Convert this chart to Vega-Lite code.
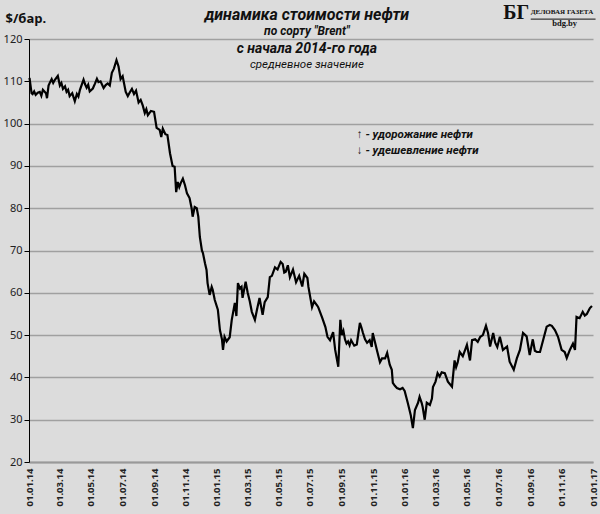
{
  "$schema": "https://vega.github.io/schema/vega-lite/v6.json",
  "width": 564,
  "height": 423,
  "autosize": {"type": "none"},
  "padding": {"left": 29, "top": 39, "right": 7, "bottom": 52},
  "background": "#dcdcdc",
  "config": {
    "view": {"stroke": null},
    "text": {"font": "Roboto", "color": "#111"},
    "axisX": {"labelOverlap": false, "labelSeparation": 0, "labelBound": false}
  },
  "layer": [
    {
      "data": {
        "values": [
          {"date": "2014/01/02", "price": 110.8},
          {"date": "2014/01/06", "price": 107.2},
          {"date": "2014/01/08", "price": 107.0},
          {"date": "2014/01/11", "price": 107.6},
          {"date": "2014/01/14", "price": 106.8},
          {"date": "2014/01/18", "price": 107.3},
          {"date": "2014/01/22", "price": 107.5},
          {"date": "2014/01/25", "price": 106.6},
          {"date": "2014/01/28", "price": 108.0},
          {"date": "2014/02/03", "price": 107.2},
          {"date": "2014/02/05", "price": 106.0},
          {"date": "2014/02/08", "price": 109.0},
          {"date": "2014/02/11", "price": 109.8},
          {"date": "2014/02/14", "price": 110.5},
          {"date": "2014/02/17", "price": 109.6},
          {"date": "2014/02/20", "price": 110.3},
          {"date": "2014/02/26", "price": 111.3},
          {"date": "2014/03/02", "price": 109.0},
          {"date": "2014/03/05", "price": 109.6},
          {"date": "2014/03/08", "price": 108.2},
          {"date": "2014/03/12", "price": 108.8},
          {"date": "2014/03/15", "price": 107.5},
          {"date": "2014/03/18", "price": 108.0},
          {"date": "2014/03/21", "price": 106.5},
          {"date": "2014/03/26", "price": 107.2},
          {"date": "2014/03/31", "price": 105.3},
          {"date": "2014/04/04", "price": 107.0},
          {"date": "2014/04/07", "price": 106.4},
          {"date": "2014/04/10", "price": 108.0},
          {"date": "2014/04/17", "price": 110.4},
          {"date": "2014/04/20", "price": 109.3},
          {"date": "2014/04/23", "price": 108.5},
          {"date": "2014/04/26", "price": 109.2},
          {"date": "2014/04/29", "price": 107.6},
          {"date": "2014/05/05", "price": 108.3},
          {"date": "2014/05/09", "price": 109.4},
          {"date": "2014/05/13", "price": 110.6},
          {"date": "2014/05/16", "price": 109.8},
          {"date": "2014/05/20", "price": 110.0},
          {"date": "2014/05/26", "price": 108.4},
          {"date": "2014/05/30", "price": 109.1},
          {"date": "2014/06/03", "price": 109.5},
          {"date": "2014/06/07", "price": 109.0},
          {"date": "2014/06/11", "price": 112.0},
          {"date": "2014/06/15", "price": 113.0},
          {"date": "2014/06/20", "price": 115.0},
          {"date": "2014/06/24", "price": 113.5},
          {"date": "2014/06/28", "price": 110.5},
          {"date": "2014/07/02", "price": 111.2},
          {"date": "2014/07/08", "price": 107.5},
          {"date": "2014/07/12", "price": 106.5},
          {"date": "2014/07/16", "price": 107.4},
          {"date": "2014/07/20", "price": 108.2},
          {"date": "2014/07/24", "price": 107.0},
          {"date": "2014/07/28", "price": 107.8},
          {"date": "2014/08/02", "price": 105.0},
          {"date": "2014/08/06", "price": 105.6},
          {"date": "2014/08/10", "price": 104.3},
          {"date": "2014/08/14", "price": 102.5},
          {"date": "2014/08/17", "price": 103.4},
          {"date": "2014/08/20", "price": 102.0},
          {"date": "2014/08/26", "price": 103.0},
          {"date": "2014/09/01", "price": 102.8},
          {"date": "2014/09/06", "price": 99.0},
          {"date": "2014/09/12", "price": 98.5},
          {"date": "2014/09/15", "price": 96.8},
          {"date": "2014/09/18", "price": 98.8},
          {"date": "2014/09/23", "price": 97.5},
          {"date": "2014/09/27", "price": 97.3},
          {"date": "2014/10/02", "price": 93.0},
          {"date": "2014/10/07", "price": 90.0},
          {"date": "2014/10/11", "price": 89.8},
          {"date": "2014/10/14", "price": 83.8},
          {"date": "2014/10/17", "price": 86.2},
          {"date": "2014/10/20", "price": 85.0},
          {"date": "2014/10/23", "price": 86.0},
          {"date": "2014/10/27", "price": 87.0},
          {"date": "2014/10/31", "price": 85.5},
          {"date": "2014/11/04", "price": 83.5},
          {"date": "2014/11/09", "price": 82.4},
          {"date": "2014/11/13", "price": 80.0},
          {"date": "2014/11/15", "price": 78.0},
          {"date": "2014/11/19", "price": 80.3},
          {"date": "2014/11/23", "price": 80.0},
          {"date": "2014/11/26", "price": 78.0},
          {"date": "2014/11/29", "price": 73.2},
          {"date": "2014/12/03", "price": 70.0},
          {"date": "2014/12/05", "price": 69.4},
          {"date": "2014/12/09", "price": 67.0},
          {"date": "2014/12/12", "price": 65.4},
          {"date": "2014/12/14", "price": 62.3},
          {"date": "2014/12/18", "price": 59.5},
          {"date": "2014/12/22", "price": 61.4},
          {"date": "2014/12/24", "price": 60.7},
          {"date": "2014/12/28", "price": 58.3},
          {"date": "2015/01/03", "price": 56.0},
          {"date": "2015/01/07", "price": 51.2},
          {"date": "2015/01/11", "price": 49.0},
          {"date": "2015/01/13", "price": 46.5},
          {"date": "2015/01/16", "price": 49.6},
          {"date": "2015/01/20", "price": 48.5},
          {"date": "2015/01/26", "price": 49.5},
          {"date": "2015/01/30", "price": 53.6},
          {"date": "2015/02/05", "price": 57.6},
          {"date": "2015/02/08", "price": 54.5},
          {"date": "2015/02/11", "price": 62.3},
          {"date": "2015/02/15", "price": 61.0},
          {"date": "2015/02/18", "price": 61.4},
          {"date": "2015/02/20", "price": 58.8},
          {"date": "2015/02/26", "price": 62.6},
          {"date": "2015/03/02", "price": 60.0},
          {"date": "2015/03/06", "price": 58.0},
          {"date": "2015/03/10", "price": 55.5},
          {"date": "2015/03/16", "price": 53.6},
          {"date": "2015/03/20", "price": 56.0},
          {"date": "2015/03/25", "price": 58.8},
          {"date": "2015/03/31", "price": 54.8},
          {"date": "2015/04/04", "price": 57.8},
          {"date": "2015/04/10", "price": 59.0},
          {"date": "2015/04/14", "price": 63.7},
          {"date": "2015/04/18", "price": 64.0},
          {"date": "2015/04/24", "price": 66.0},
          {"date": "2015/04/29", "price": 65.5},
          {"date": "2015/05/05", "price": 67.3},
          {"date": "2015/05/09", "price": 66.8},
          {"date": "2015/05/12", "price": 64.8},
          {"date": "2015/05/15", "price": 65.0},
          {"date": "2015/05/19", "price": 66.5},
          {"date": "2015/05/23", "price": 63.7},
          {"date": "2015/05/29", "price": 65.5},
          {"date": "2015/06/04", "price": 62.5},
          {"date": "2015/06/10", "price": 64.0},
          {"date": "2015/06/16", "price": 61.5},
          {"date": "2015/06/20", "price": 64.5},
          {"date": "2015/06/26", "price": 63.5},
          {"date": "2015/06/28", "price": 61.4},
          {"date": "2015/07/05", "price": 56.6},
          {"date": "2015/07/09", "price": 58.0},
          {"date": "2015/07/15", "price": 57.0},
          {"date": "2015/07/17", "price": 56.6},
          {"date": "2015/07/25", "price": 54.0},
          {"date": "2015/07/31", "price": 51.9},
          {"date": "2015/08/04", "price": 49.6},
          {"date": "2015/08/09", "price": 48.8},
          {"date": "2015/08/15", "price": 50.7},
          {"date": "2015/08/19", "price": 46.5},
          {"date": "2015/08/25", "price": 42.5},
          {"date": "2015/08/29", "price": 53.6},
          {"date": "2015/09/01", "price": 50.0},
          {"date": "2015/09/04", "price": 51.0},
          {"date": "2015/09/07", "price": 49.0},
          {"date": "2015/09/10", "price": 48.0},
          {"date": "2015/09/13", "price": 48.5},
          {"date": "2015/09/16", "price": 47.6},
          {"date": "2015/09/19", "price": 48.8},
          {"date": "2015/09/25", "price": 47.5},
          {"date": "2015/09/30", "price": 47.8},
          {"date": "2015/10/06", "price": 52.9},
          {"date": "2015/10/09", "price": 51.8},
          {"date": "2015/10/12", "price": 50.5},
          {"date": "2015/10/16", "price": 49.0},
          {"date": "2015/10/20", "price": 48.2},
          {"date": "2015/10/25", "price": 48.8},
          {"date": "2015/10/29", "price": 47.2},
          {"date": "2015/10/31", "price": 50.5},
          {"date": "2015/11/04", "price": 48.5},
          {"date": "2015/11/08", "price": 46.5},
          {"date": "2015/11/14", "price": 43.6},
          {"date": "2015/11/18", "price": 44.5},
          {"date": "2015/11/24", "price": 44.5},
          {"date": "2015/11/28", "price": 45.8},
          {"date": "2015/12/03", "price": 43.0},
          {"date": "2015/12/07", "price": 41.8},
          {"date": "2015/12/09", "price": 38.7},
          {"date": "2015/12/13", "price": 38.0},
          {"date": "2015/12/17", "price": 37.5},
          {"date": "2015/12/23", "price": 37.2},
          {"date": "2015/12/28", "price": 37.5},
          {"date": "2016/01/01", "price": 36.8},
          {"date": "2016/01/07", "price": 34.0},
          {"date": "2016/01/13", "price": 31.0},
          {"date": "2016/01/17", "price": 28.0},
          {"date": "2016/01/21", "price": 32.3},
          {"date": "2016/01/27", "price": 34.0},
          {"date": "2016/01/30", "price": 35.4},
          {"date": "2016/02/03", "price": 34.0},
          {"date": "2016/02/05", "price": 33.0},
          {"date": "2016/02/09", "price": 30.0},
          {"date": "2016/02/13", "price": 34.0},
          {"date": "2016/02/19", "price": 33.5},
          {"date": "2016/02/23", "price": 35.0},
          {"date": "2016/02/25", "price": 37.7},
          {"date": "2016/03/01", "price": 39.0},
          {"date": "2016/03/05", "price": 41.0},
          {"date": "2016/03/09", "price": 40.2},
          {"date": "2016/03/13", "price": 41.2},
          {"date": "2016/03/19", "price": 41.0},
          {"date": "2016/03/25", "price": 39.0},
          {"date": "2016/04/02", "price": 37.8},
          {"date": "2016/04/07", "price": 44.0},
          {"date": "2016/04/10", "price": 42.4},
          {"date": "2016/04/13", "price": 43.5},
          {"date": "2016/04/17", "price": 46.0},
          {"date": "2016/04/23", "price": 45.0},
          {"date": "2016/05/01", "price": 47.7},
          {"date": "2016/05/07", "price": 44.0},
          {"date": "2016/05/11", "price": 48.8},
          {"date": "2016/05/17", "price": 49.0},
          {"date": "2016/05/22", "price": 48.4},
          {"date": "2016/05/27", "price": 49.6},
          {"date": "2016/06/01", "price": 50.0},
          {"date": "2016/06/07", "price": 52.2},
          {"date": "2016/06/11", "price": 50.5},
          {"date": "2016/06/15", "price": 47.3},
          {"date": "2016/06/21", "price": 50.5},
          {"date": "2016/06/25", "price": 48.2},
          {"date": "2016/06/29", "price": 47.2},
          {"date": "2016/07/04", "price": 49.6},
          {"date": "2016/07/10", "price": 46.5},
          {"date": "2016/07/18", "price": 47.3},
          {"date": "2016/07/23", "price": 43.7},
          {"date": "2016/07/31", "price": 41.8},
          {"date": "2016/08/06", "price": 44.5},
          {"date": "2016/08/12", "price": 46.5},
          {"date": "2016/08/18", "price": 50.5},
          {"date": "2016/08/25", "price": 49.7},
          {"date": "2016/08/31", "price": 45.3},
          {"date": "2016/09/06", "price": 49.0},
          {"date": "2016/09/10", "price": 46.3},
          {"date": "2016/09/14", "price": 46.0},
          {"date": "2016/09/20", "price": 46.0},
          {"date": "2016/09/26", "price": 48.8},
          {"date": "2016/10/03", "price": 52.0},
          {"date": "2016/10/09", "price": 52.4},
          {"date": "2016/10/13", "price": 52.2},
          {"date": "2016/10/19", "price": 51.2},
          {"date": "2016/10/25", "price": 49.6},
          {"date": "2016/11/01", "price": 46.5},
          {"date": "2016/11/07", "price": 46.0},
          {"date": "2016/11/11", "price": 44.6},
          {"date": "2016/11/17", "price": 46.5},
          {"date": "2016/11/23", "price": 48.0},
          {"date": "2016/11/27", "price": 46.5},
          {"date": "2016/11/30", "price": 54.3},
          {"date": "2016/12/06", "price": 54.0},
          {"date": "2016/12/12", "price": 55.5},
          {"date": "2016/12/16", "price": 54.6},
          {"date": "2016/12/20", "price": 55.0},
          {"date": "2016/12/26", "price": 56.4},
          {"date": "2016/12/30", "price": 56.9}
        ]
      },
      "mark": {"type": "line", "color": "#000", "strokeWidth": 2.2},
      "encoding": {
        "x": {
          "field": "date",
          "type": "temporal",
          "scale": {
            "domain": [
              {"year": 2014, "month": 1, "date": 1},
              {"year": 2017, "month": 1, "date": 1}
            ]
          },
          "axis": {
            "title": null,
            "format": "%d.%m.%y",
            "tickCount": {"interval": "month", "step": 2},
            "labelAngle": -90,
            "labelFont": "Noto Sans",
            "labelFontWeight": "bold",
            "labelFontSize": 9.5,
            "labelColor": "#222",
            "labelPadding": 6,
            "labelOverlap": false,
            "labelFlush": false,
            "ticks": false,
            "grid": false,
            "domainColor": "#999",
            "domainWidth": 2
          }
        },
        "y": {
          "field": "price",
          "type": "quantitative",
          "scale": {"domain": [20, 120], "nice": false, "zero": false},
          "axis": {
            "values": [20, 30, 40, 50, 60, 70, 80, 90, 100, 110, 120],
            "title": "$/бар.",
            "titleAngle": 0,
            "titleAlign": "left",
            "titleBaseline": "middle",
            "titleX": -24,
            "titleY": -21,
            "titleFont": "Noto Sans",
            "titleFontSize": 13,
            "titleFontWeight": "bold",
            "titleColor": "#111",
            "labelFont": "Noto Sans",
            "labelFontSize": 11,
            "labelColor": "#222",
            "labelPadding": 2,
            "tickSize": 5,
            "tickColor": "#000",
            "domainColor": "#000",
            "grid": true,
            "gridColor": "#a0a0a0",
            "gridWidth": 1.5
          }
        }
      }
    },
    {
      "data": {"values": [{}]},
      "mark": {"type": "text", "text": "динамика стоимости нефти", "fontSize": 16, "fontWeight": "bold", "fontStyle": "italic", "align": "center", "baseline": "middle"},
      "encoding": {
        "x": {"datum": {"year": 2015, "month": 6, "date": 25}, "type": "temporal"},
        "y": {"datum": 125.7, "type": "quantitative"}
      }
    },
    {
      "data": {"values": [{}]},
      "mark": {"type": "text", "text": "по сорту \"Brent\"", "fontSize": 12, "fontWeight": "bold", "fontStyle": "italic", "align": "center", "baseline": "middle"},
      "encoding": {
        "x": {"datum": {"year": 2015, "month": 6, "date": 25}, "type": "temporal"},
        "y": {"datum": 121.9, "type": "quantitative"}
      }
    },
    {
      "data": {"values": [{}]},
      "mark": {"type": "text", "text": "с начала 2014-го года", "fontSize": 14, "fontWeight": "bold", "fontStyle": "italic", "align": "center", "baseline": "middle"},
      "encoding": {
        "x": {"datum": {"year": 2015, "month": 6, "date": 25}, "type": "temporal"},
        "y": {"datum": 117.6, "type": "quantitative"}
      }
    },
    {
      "data": {"values": [{}]},
      "mark": {"type": "text", "text": "средневное значение", "fontSize": 11.5, "fontStyle": "italic", "align": "center", "baseline": "middle"},
      "encoding": {
        "x": {"datum": {"year": 2015, "month": 6, "date": 25}, "type": "temporal"},
        "y": {"datum": 113.9, "type": "quantitative"}
      }
    },
    {
      "data": {"values": [{}]},
      "mark": {"type": "text", "text": "↑ - удорожание нефти", "fontSize": 11.5, "fontWeight": "bold", "fontStyle": "italic", "align": "left", "baseline": "middle"},
      "encoding": {
        "x": {"datum": {"year": 2015, "month": 9, "date": 30}, "type": "temporal"},
        "y": {"datum": 97.3, "type": "quantitative"}
      }
    },
    {
      "data": {"values": [{}]},
      "mark": {"type": "text", "text": "↓ - удешевление нефти", "fontSize": 11.5, "fontWeight": "bold", "fontStyle": "italic", "align": "left", "baseline": "middle"},
      "encoding": {
        "x": {"datum": {"year": 2015, "month": 9, "date": 30}, "type": "temporal"},
        "y": {"datum": 93.5, "type": "quantitative"}
      }
    },
    {
      "data": {"values": [{}]},
      "mark": {"type": "text", "text": "БГ", "font": "Liberation Serif", "fontSize": 20, "fontWeight": "bold", "align": "right", "baseline": "middle"},
      "encoding": {
        "x": {"datum": {"year": 2016, "month": 8, "date": 30}, "type": "temporal"},
        "y": {"datum": 126.1, "type": "quantitative"}
      }
    },
    {
      "data": {"values": [{}]},
      "mark": {"type": "text", "text": "ДЕЛОВАЯ ГАЗЕТА", "font": "Liberation Serif", "fontSize": 7, "fontWeight": "bold", "align": "left", "baseline": "middle"},
      "encoding": {
        "x": {"datum": {"year": 2016, "month": 9, "date": 2}, "type": "temporal"},
        "y": {"datum": 126.4, "type": "quantitative"}
      }
    },
    {
      "data": {"values": [{}]},
      "mark": {"type": "rule", "color": "#111", "strokeWidth": 1},
      "encoding": {
        "x": {"datum": {"year": 2016, "month": 9, "date": 2}, "type": "temporal"},
        "x2": {"datum": {"year": 2017, "month": 1, "date": 6}},
        "y": {"datum": 124.7, "type": "quantitative"}
      }
    },
    {
      "data": {"values": [{}]},
      "mark": {"type": "text", "text": "bdg.by", "font": "Liberation Serif", "fontSize": 8.5, "fontWeight": "bold", "align": "center", "baseline": "middle"},
      "encoding": {
        "x": {"datum": {"year": 2016, "month": 11, "date": 7}, "type": "temporal"},
        "y": {"datum": 123.8, "type": "quantitative"}
      }
    }
  ]
}
